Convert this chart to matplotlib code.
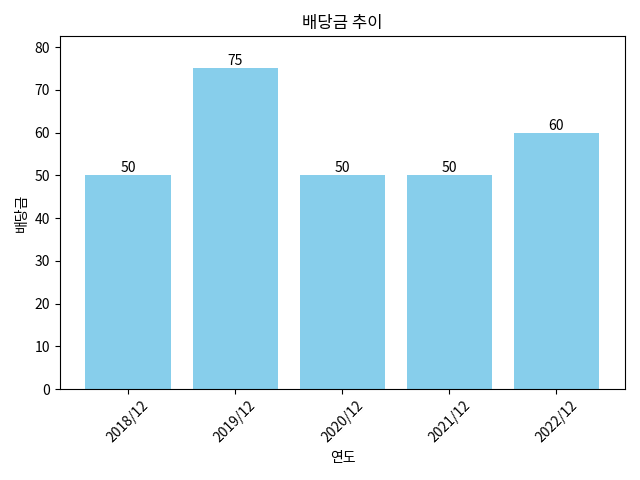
import matplotlib
matplotlib.use("Agg")
import matplotlib.pyplot as plt

plt.rcParams["font.family"] = ["Noto Sans CJK KR", "DejaVu Sans"]

years = ["2018/12", "2019/12", "2020/12", "2021/12", "2022/12"]
dividends = [50, 75, 50, 50, 60]

fig, ax = plt.subplots(figsize=(6.4, 4.8), dpi=100)
bars = ax.bar(years, dividends, color="skyblue")
for b, v in zip(bars, dividends):
    ax.text(b.get_x() + b.get_width() / 2, b.get_height(), f"{v}", ha="center", va="bottom")
ax.set_ylim(0, max(dividends) * 1.1)
ax.set_title("배당금 추이")
ax.set_xlabel("연도")
ax.set_ylabel("배당금")
plt.xticks(rotation=45)
fig.tight_layout()
fig.savefig("out.png")
